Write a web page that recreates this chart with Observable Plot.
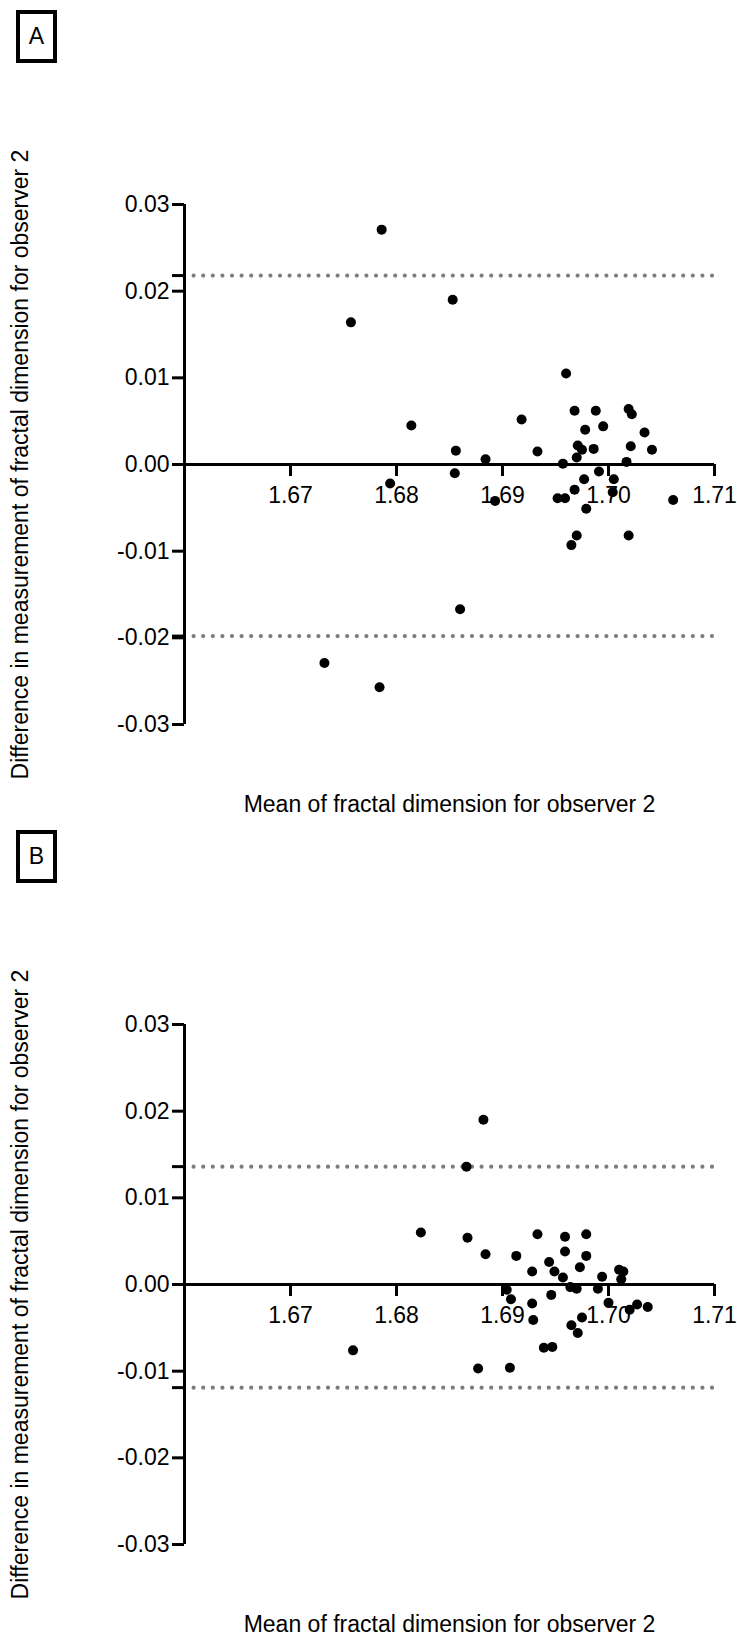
<!DOCTYPE html>
<html><head><meta charset="utf-8">
<script src="https://cdn.jsdelivr.net/npm/d3@7"></script>
<script src="https://cdn.jsdelivr.net/npm/@observablehq/plot@0.6"></script>
<style>
body{margin:0;background:#fff;font-family:"Liberation Sans",Arial,sans-serif;}
.panel{position:relative;width:737px;}
.panel svg{display:block;}
.tag{position:absolute;left:16px;top:10px;width:33px;height:45px;border:4px solid #000;font:23px "Liberation Sans",Arial,sans-serif;display:flex;align-items:center;justify-content:center;background:#fff;}
</style></head><body>
<div id="root"></div>
<script>
const xTicks = [1.67, 1.68, 1.69, 1.70, 1.71];
const yTicks = [-0.03, -0.02, -0.01, 0, 0.01, 0.02, 0.03];
const xTitle = "Mean of fractal dimension for observer 2";
const yTitle = "Difference in measurement of fractal dimension for observer 2";
const panelLabels = ["A", "B"];

const meanA = [1.6757, 1.6786, 1.6853, 1.6960, 1.6968, 1.6988, 1.7019, 1.7022, 1.6918, 1.6814, 1.6995, 1.6978, 1.7034, 1.6971, 1.6975, 1.6986, 1.7021, 1.7041, 1.6856, 1.6933, 1.6884, 1.6970, 1.6957, 1.7017, 1.6855, 1.6991, 1.6794, 1.6977, 1.7005, 1.6968, 1.7004, 1.6952, 1.6959, 1.6893, 1.7061, 1.6979, 1.6970, 1.7019, 1.6965, 1.6860, 1.6732, 1.6784];
const diffA = [0.0164, 0.0271, 0.0190, 0.0105, 0.0062, 0.0062, 0.0064, 0.0058, 0.0052, 0.0045, 0.0044, 0.0040, 0.0037, 0.0022, 0.0017, 0.0018, 0.0021, 0.0017, 0.0016, 0.0015, 0.0006, 0.0008, 0.0001, 0.0003, -0.0010, -0.0008, -0.0022, -0.0017, -0.0017, -0.0029, -0.0032, -0.0039, -0.0039, -0.0042, -0.0041, -0.0051, -0.0082, -0.0082, -0.0093, -0.0167, -0.0229, -0.0257];
const limitsA = [0.0218, -0.0198];

const meanB = [1.6882, 1.6866, 1.6823, 1.6867, 1.6933, 1.6959, 1.6979, 1.6884, 1.6913, 1.6959, 1.6979, 1.6944, 1.6973, 1.6928, 1.6949, 1.6957, 1.6994, 1.7010, 1.7014, 1.7012, 1.6964, 1.6970, 1.6990, 1.6904, 1.6908, 1.6946, 1.7000, 1.6928, 1.7027, 1.7020, 1.7037, 1.6929, 1.6975, 1.6965, 1.6971, 1.6939, 1.6947, 1.6759, 1.6877, 1.6907];
const diffB = [0.0190, 0.0136, 0.0060, 0.0054, 0.0058, 0.0055, 0.0058, 0.0035, 0.0033, 0.0038, 0.0033, 0.0026, 0.0020, 0.0015, 0.0015, 0.0008, 0.0009, 0.0017, 0.0015, 0.0006, -0.0003, -0.0005, -0.0005, -0.0006, -0.0017, -0.0012, -0.0021, -0.0022, -0.0023, -0.0029, -0.0026, -0.0041, -0.0038, -0.0047, -0.0056, -0.0073, -0.0072, -0.0076, -0.0097, -0.0096];
const limitsB = [0.0136, -0.0119];

const W = 737;
const fmt = d => d.toFixed(2);

function panel(label, means, diffs, limits, H, ml, mr, mt, mb) {
  const data = means.map((m, i) => ({m, d: diffs[i]}));
  const yScale = Plot.scale({y: {domain: [-0.03, 0.03], range: [H - mb, mt]}});
  const shift = yScale.apply(0) - (H - mb);
  const chart = Plot.plot({
    width: W, height: H,
    marginLeft: ml, marginRight: mr, marginTop: mt, marginBottom: mb,
    style: {fontFamily: "'Liberation Sans', Arial, sans-serif", fontSize: "23px", color: "#000", background: "#fff", overflow: "visible"},
    x: {domain: [1.66, 1.71], label: null},
    y: {domain: [-0.03, 0.03], label: null},
    marks: [
      Plot.ruleY(limits, {x1: 1.66, x2: 1.71, stroke: "#7d7d7d", strokeWidth: 4.2, strokeDasharray: "0 9.6", strokeDashoffset: -9.6, strokeLinecap: "round"}),
      Plot.axisY(limits, {tickSize: 12, tickFormat: () => "", strokeWidth: 3, label: null}),
      Plot.axisY(yTicks, {tickSize: 12, tickPadding: 3, tickFormat: fmt, strokeWidth: 3, fontSize: 23, label: null}),
      Plot.ruleX([1.66], {y1: -0.03, y2: 0.03, strokeWidth: 3, stroke: "#000"}),
      Plot.ruleY([0], {x1: 1.66, x2: 1.71, strokeWidth: 3, stroke: "#000"}),
      Plot.axisX(xTicks, {tickSize: 12, tickPadding: 10, dy: shift, tickFormat: fmt, strokeWidth: 3, fontSize: 23, label: null}),
      Plot.dot(data, {x: "m", y: "d", r: 5, fill: "#000", stroke: null}),
      Plot.text([xTitle], {text: d => d, frameAnchor: "bottom", lineAnchor: "middle", textAnchor: "middle", dy: 80, fontSize: 23, fill: "#000"}),
      Plot.text([yTitle], {text: d => d, frameAnchor: "left", textAnchor: "middle", lineAnchor: "middle", rotate: -90, dx: -164, fontSize: 23, fill: "#000"})
    ]
  });
  const div = document.createElement("div");
  div.className = "panel";
  div.appendChild(chart);
  const tag = document.createElement("div");
  tag.className = "tag";
  tag.textContent = label;
  div.appendChild(tag);
  return div;
}

const root = document.getElementById("root");
root.appendChild(panel(panelLabels[0], meanA, diffA, limitsA, 820, 184, 23, 204, 96));
root.appendChild(panel(panelLabels[1], meanB, diffB, limitsB, 819, 184, 23, 204, 95));
</script>
</body></html>
